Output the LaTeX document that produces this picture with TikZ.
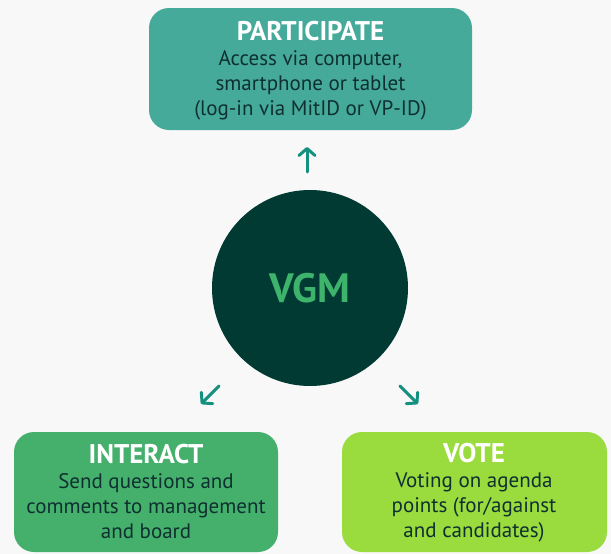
\documentclass[tikz,border=0pt]{standalone}
\usepackage{fontspec}
\setmainfont{PT Sans}
\usetikzlibrary{arrows.meta}
\definecolor{bg}{HTML}{F8F8F8}
\definecolor{teal}{HTML}{45AA9A}
\definecolor{igreen}{HTML}{45B06C}
\definecolor{lime}{HTML}{9ADB3E}
\definecolor{dark}{HTML}{013A33}
\definecolor{txt}{HTML}{0F3030}
\definecolor{arr}{HTML}{14907E}
\definecolor{vgm}{HTML}{3DB36B}
\tikzset{
  boxshape/.style={rounded corners=20pt},
  ttl/.style={anchor=base, inner sep=0pt, text=white, font=\fontsize{27}{27}\selectfont\bfseries},
  body/.style={anchor=base, inner sep=0pt, text=txt, font=\fontsize{21}{25}\selectfont},
  arrowline/.style={draw=arr, line width=3pt, line cap=round,
    -{Straight Barb[length=7pt,width=16pt,line cap=round,line join=round]}},
}
\begin{document}
\begin{tikzpicture}[x=1pt,y=-1pt]
\path[fill=bg] (0,0) rectangle (611,554);
% boxes
\path[fill=teal, boxshape] (149,8) rectangle (472,130);
\path[fill=igreen, boxshape] (14,432) rectangle (278,552);
\path[fill=lime, boxshape] (342,432) rectangle (607,552);
\node[ttl] (p0) at (310.5,40) {PARTICIPATE};
\node[body] (p1) at (310.5,65) {Access via computer,};
\node[body] (p2) at (310.5,90) {smartphone or tablet};
\node[body] (p3) at (310.5,115) {(log-in via MitID or VP-ID)};
\node[ttl] (i0) at (146,463) {INTERACT};
\node[body] (i1) at (146,488) {Send questions and};
\node[body] (i2) at (146,513) {comments to management};
\node[body] (i3) at (146,538) {and board};
\node[ttl] (v0) at (474,462) {VOTE};
\node[body] (v1) at (474,487) {Voting on agenda};
\node[body] (v2) at (474,512) {points (for/against};
\node[body] (v3) at (474,537) {and candidates)};
% circle
\node[circle, fill=dark, minimum size=196pt, inner sep=0pt,
  font=\fontsize{41}{41}\selectfont\bfseries, text=vgm] (vgm) at (310,288) {VGM};
% arrows
\coordinate (u1) at (307,172);
\coordinate (u2) at (307,147);
\coordinate (l1) at (219,386);
\coordinate (l2) at (201,404);
\coordinate (r1) at (400,386);
\coordinate (r2) at (418,404);
\draw[arrowline] (u1) -- (u2);
\draw[arrowline] (l1) -- (l2);
\draw[arrowline] (r1) -- (r2);
\end{tikzpicture}
\end{document}
